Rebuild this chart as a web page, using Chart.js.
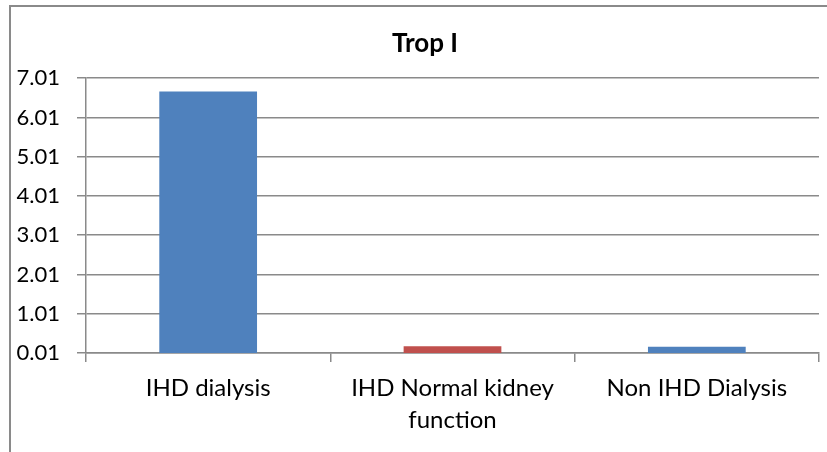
<!DOCTYPE html>
<html>
<head>
<meta charset="utf-8">
<script src="https://cdn.jsdelivr.net/npm/chart.js@4.4.0/dist/chart.umd.min.js"></script>
<style>
  html, body { margin: 0; padding: 0; background: #fff; overflow: hidden; }
  #frame {
    position: absolute; left: 9px; top: 5px; width: 900px; height: 500px;
    border-left: 2px solid #8a8a8a; border-top: 2px solid #8a8a8a;
  }
  #chart { position: absolute; left: 0; top: 0; }
</style>
</head>
<body>
<div id="frame"></div>
<canvas id="chart" width="827" height="452"></canvas>
<script>
// categories and values
const categories = [["IHD dialysis"], ["IHD Normal kidney", "function"], ["Non IHD Dialysis"]];
const tropValues = [6.67, 0.18, 0.17];
const barColors = ["#4F81BD", "#C0504D", "#4F81BD"];
const yTickValues = [0.01, 1.01, 2.01, 3.01, 4.01, 5.01, 6.01, 7.01];

const gridGrey = "#8a8a8a";
const fontFamily = "Lato, 'Open Sans', sans-serif";

// the excel chart box is wider than the picture, so its title sits left of the plot centre
const shiftTitle = {
  id: "shiftTitle",
  afterLayout(chart) {
    if (chart.titleBlock) {
      chart.titleBlock.left = 31;
      chart.titleBlock.right = 819;
    }
  },
};

const ctx = document.getElementById("chart");

new Chart(ctx, {
  type: "bar",
  data: {
    labels: categories,
    datasets: [
      {
        label: "Trop I",
        data: tropValues,
        backgroundColor: barColors,
        borderWidth: 0,
        categoryPercentage: 1,
        barPercentage: 0.4,
      },
    ],
  },
  plugins: [shiftTitle],
  options: {
    responsive: false,
    animation: false,
    layout: {
      padding: { left: 0, right: 8, top: 0, bottom: 0 },
    },
    scales: {
      y: {
        min: yTickValues[0],
        max: yTickValues[yTickValues.length - 1],
        afterBuildTicks: (scale) => {
          scale.ticks = yTickValues.map((v) => ({ value: v }));
        },
        afterFit: (scale) => {
          scale.width = 86;
        },
        ticks: {
          color: "#000",
          padding: 17,
          font: { family: fontFamily, size: 22 },
          callback: (value) => Number(value).toFixed(2),
        },
        grid: {
          color: gridGrey,
          lineWidth: 1.5,
          tickLength: 9,
        },
        border: { color: gridGrey, width: 1.5 },
      },
      x: {
        afterFit: (scale) => {
          scale.height = 99;
        },
        ticks: {
          color: "#000",
          padding: 10,
          autoSkip: false,
          maxRotation: 0,
          font: { family: fontFamily, size: 24, lineHeight: 1.35 },
        },
        grid: {
          offset: true,
          drawOnChartArea: false,
          color: gridGrey,
          lineWidth: 1.5,
          tickLength: 9,
        },
        border: { color: gridGrey, width: 1.5 },
      },
    },
    plugins: {
      legend: { display: false },
      tooltip: { enabled: false },
      title: {
        display: true,
        text: "Trop I",
        color: "#000",
        font: { family: fontFamily, size: 26, weight: "bold", lineHeight: 1.2 },
        padding: { top: 28, bottom: 19 },
      },
    },
  },
});
</script>
</body>
</html>
